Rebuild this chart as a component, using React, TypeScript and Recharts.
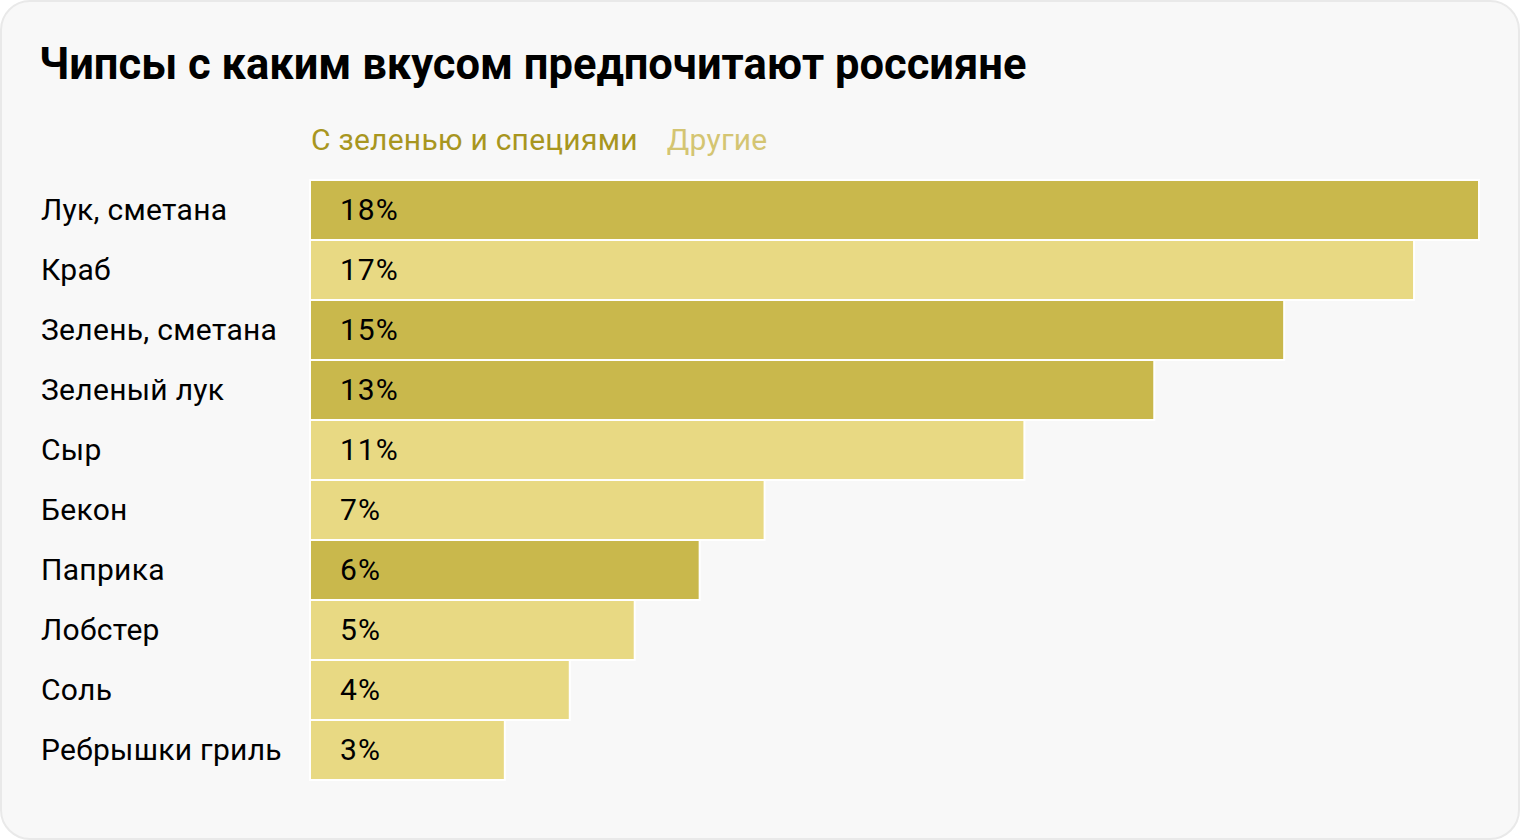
import { BarChart, Bar, XAxis, YAxis, Cell, LabelList } from 'recharts'

const categories = [
  'Лук, сметана',
  'Краб',
  'Зелень, сметана',
  'Зеленый лук',
  'Сыр',
  'Бекон',
  'Паприка',
  'Лобстер',
  'Соль',
  'Ребрышки гриль',
]
const shares = [18, 17, 15, 13, 11, 7, 6, 5, 4, 3]
// true = «С зеленью и специями», false = «Другие»
const herbs = [true, false, true, true, false, false, true, false, false, false]
const legendLabels = ['С зеленью и специями', 'Другие']

const DARK = '#c9b84c'
const LIGHT = '#e8d983'
const FONT = 'Roboto, "Noto Sans", sans-serif'

const data = categories.map((name, i) => ({ name, value: shares[i], herbs: herbs[i] }))

const CategoryTick = (props: any) => {
  const { y, payload } = props
  return (
    <text x={42} y={y} dy={10} fontSize={30} fill="#000" fontFamily={FONT} letterSpacing={0.3}>
      {payload.value}
    </text>
  )
}

const ValueLabel = (props: any) => {
  const { x, y, height, value } = props
  return (
    <text
      x={x + 30}
      y={y + height / 2}
      dy={10}
      fontSize={30}
      fill="#000"
      fontFamily={FONT}
      letterSpacing={1}
    >
      {value}%
    </text>
  )
}

export default function App() {
  return (
    <div
      style={{
        position: 'fixed',
        left: 0,
        top: 0,
        width: 1520,
        height: 840,
        background: '#fff',
      }}
    >
      <div
        style={{
          position: 'absolute',
          left: 0,
          top: 0,
          width: 1516,
          height: 836,
          background: '#f8f8f8',
          border: '2px solid #e9e9e9',
          borderRadius: 30,
          fontFamily: FONT,
        }}
      >
        <div
          style={{
            position: 'absolute',
            left: 37,
            top: 37,
            fontSize: 43.5,
            fontWeight: 700,
            color: '#000',
            lineHeight: '52px',
            whiteSpace: 'nowrap',
          }}
        >
          Чипсы с каким вкусом предпочитают россияне
        </div>
        <div
          style={{
            position: 'absolute',
            left: 309,
            top: 119,
            fontSize: 30,
            letterSpacing: 0.25,
            lineHeight: '38px',
            whiteSpace: 'nowrap',
          }}
        >
          <span style={{ color: '#a8961f' }}>{legendLabels[0]}</span>
          <span style={{ color: '#d4c572', marginLeft: 29 }}>{legendLabels[1]}</span>
        </div>
        <div style={{ position: 'absolute', left: -3, top: -2 }}>
          <BarChart
            width={1520}
            height={840}
            data={data}
            layout="vertical"
            barCategoryGap={0}
            margin={{ top: 180, right: 40, bottom: 60, left: 0 }}
          >
            <XAxis type="number" domain={[0, 18]} hide />
            <YAxis
              type="category"
              dataKey="name"
              width={311}
              axisLine={false}
              tickLine={false}
              tick={<CategoryTick />}
              interval={0}
            />
            <Bar dataKey="value" stroke="#ffffff" strokeWidth={2} isAnimationActive={false}>
              {data.map((d, i) => (
                <Cell key={i} fill={d.herbs ? DARK : LIGHT} />
              ))}
              <LabelList dataKey="value" content={<ValueLabel />} />
            </Bar>
          </BarChart>
        </div>
      </div>
    </div>
  )
}
